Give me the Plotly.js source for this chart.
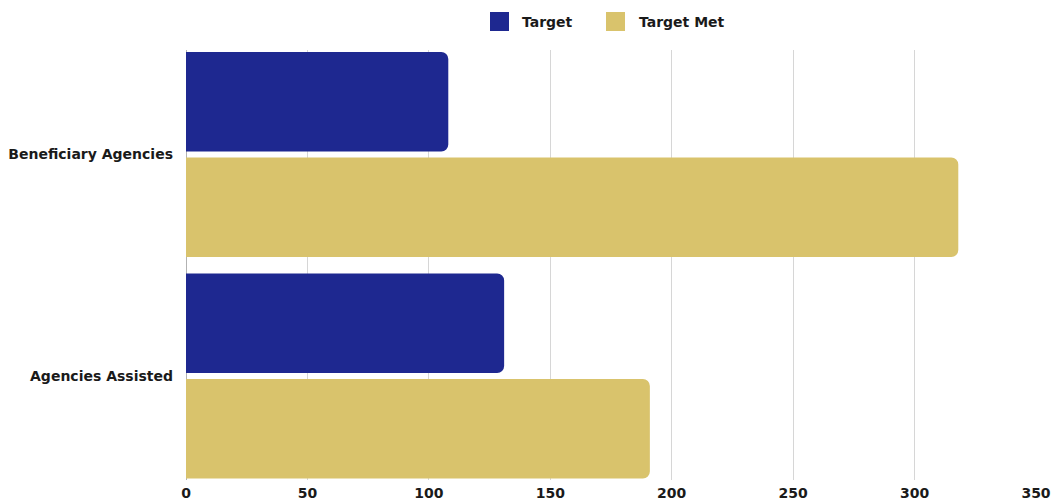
<!DOCTYPE html>
<html>
<head>
<meta charset="utf-8">
<script src="https://cdn.plot.ly/plotly-3.0.1.min.js"></script>
<style>html,body{margin:0;padding:0;background:#fff;}#chart{width:1055px;height:504px;}</style>
</head>
<body>
<div id="chart"></div>
<script>
const categories = ["Beneficiary Agencies", "Agencies Assisted"];
const targetValues = [108, 131];
const targetMetValues = [318, 191];
const xTickValues = [0, 50, 100, 150, 200, 250, 300, 350];
const seriesNames = ["Target", "Target Met"];
const seriesColors = ["#1E2890", "#D9C36C"];

const FONT = "'DejaVu Sans', sans-serif";
const TEXT_COLOR = "#1a1a1a";

const traces = [
  {
    type: "bar", orientation: "h", name: seriesNames[0],
    y: categories, x: targetValues,
    marker: {color: seriesColors[0], cornerradius: 7},
    showlegend: false
  },
  {
    type: "bar", orientation: "h", name: seriesNames[1],
    y: categories, x: targetMetValues,
    marker: {color: seriesColors[1], cornerradius: 7},
    showlegend: false
  }
];

// custom legend (squares + labels) in paper coordinates above plot
const plotL = 186, plotW = 850, plotT = 50, plotH = 430;
const px2x = p => (p - plotL) / plotW;
const py2y = p => (plotT + plotH - p) / plotH;
const legendItems = [
  {sq: 490, txt: 520},
  {sq: 606, txt: 637}
];
const legendShapes = legendItems.map((it, i) => ({
  type: "rect", xref: "paper", yref: "paper",
  x0: px2x(it.sq), x1: px2x(it.sq + 19), y0: py2y(31), y1: py2y(12),
  fillcolor: seriesColors[i], line: {width: 0}
}));
const legendAnnots = legendItems.map((it, i) => ({
  xref: "paper", yref: "paper", x: px2x(it.txt), y: py2y(21.5),
  xanchor: "left", yanchor: "middle", showarrow: false,
  text: seriesNames[i], font: {family: FONT, size: 14, color: TEXT_COLOR, weight: "bold"}
}));

const layout = {
  width: 1055, height: 504,
  margin: {l: 186, r: 19, t: 50, b: 24, pad: 0},
  paper_bgcolor: "#fff", plot_bgcolor: "#fff",
  barmode: "group", bargap: 0.047, bargroupgap: 0.057,
  font: {family: FONT, color: TEXT_COLOR, size: 14},
  showlegend: false,
  xaxis: {
    range: [0, 350], tickvals: xTickValues, ticktext: xTickValues.map(String),
    showgrid: true, gridcolor: "#d6d6d6", gridwidth: 1,
    zeroline: false, showline: false, ticks: "", ticklabelstandoff: 3,
    tickfont: {family: FONT, size: 14, color: TEXT_COLOR, weight: "bold"},
    fixedrange: true
  },
  yaxis: {
    type: "category", range: [1.4695, -0.4718],
    showgrid: false, zeroline: false,
    showline: false, ticks: "", ticklabelstandoff: 12,
    tickfont: {family: FONT, size: 14, color: TEXT_COLOR, weight: "bold"},
    fixedrange: true
  },
  shapes: [
    {type: "line", xref: "x", yref: "paper", x0: 0, x1: 0, y0: 0, y1: 1,
     line: {color: "#666", width: 1}, layer: "below"}
  ].concat(legendShapes),
  annotations: legendAnnots
};

Plotly.newPlot("chart", traces, layout, {displayModeBar: false, staticPlot: true});
</script>
</body>
</html>
